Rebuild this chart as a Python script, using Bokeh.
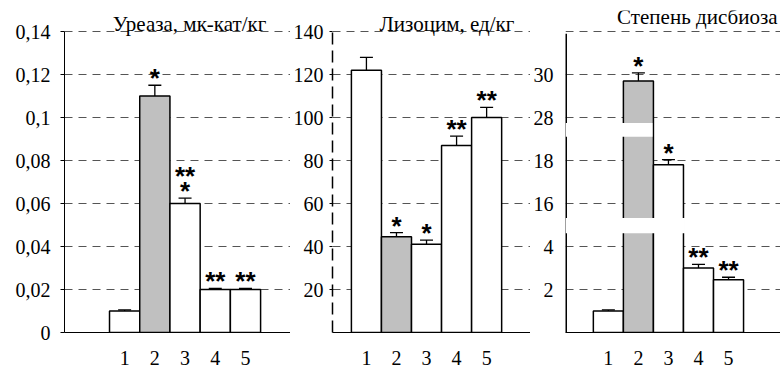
import numpy as np
from bokeh.plotting import figure
from bokeh.layouts import row
from bokeh.models import ColumnDataSource, Range1d, FixedTicker, Whisker, Label, TeeHead
from bokeh.core.properties import value
from bokeh.embed import file_html
from bokeh.resources import INLINE

# ---------------- data ----------------
groups = [1, 2, 3, 4, 5]
group_labels = ["1", "2", "3", "4", "5"]
bar_colors = ["white", "#c0c0c0", "white", "white", "white"]

urease_title = "Уреаза, мк-кат/кг"
urease = [0.010, 0.110, 0.060, 0.020, 0.020]
urease_err = [0.0005, 0.005, 0.0025, 0.0005, 0.0005]
urease_marks = ["", "*", "**\n*", "**", "**"]
urease_ticks = [0, 0.02, 0.04, 0.06, 0.08, 0.10, 0.12, 0.14]
urease_tick_labels = ["0", "0,02", "0,04", "0,06", "0,08", "0,1", "0,12", "0,14"]

lysozyme_title = "Лизоцим, ед/кг"
lysozyme = [122, 44.5, 41, 87, 100]
lysozyme_err = [6, 2, 2, 4.3, 4.7]
lysozyme_marks = ["", "*", "*", "**", "**"]
lysozyme_ticks = [20, 40, 60, 80, 100, 120, 140]
lysozyme_tick_labels = ["20", "40", "60", "80", "100", "120", "140"]

dysbiosis_title = "Степень дисбиоза"
dysbiosis = [1.0, 29.7, 17.8, 3.0, 2.45]
dysbiosis_err = [0.05, 0.5, 0.4, 0.17, 0.12]
dysbiosis_marks = ["", "*", "*", "**", "**"]
dysbiosis_ticks = [2, 4, 16, 18, 28, 30]
dysbiosis_tick_labels = ["2", "4", "16", "18", "28", "30"]
# broken axis: real value -> axis position
break_real = [0, 4, 16, 18, 28, 30, 35]
break_pos = [0, 2, 3, 4, 5, 6, 7]

# ---------------- style ----------------
SERIF = "'Times New Roman', 'Liberation Serif', 'DejaVu Serif', serif"
SANS = "Liberation Sans"
FIG_H = 370
BORDER_TOP = 10
BORDER_BOTTOM = 38
FRAME_H = FIG_H - BORDER_TOP - BORDER_BOTTOM
TOP_GRID_PX = 301  # pixels from zero line to top gridline
GRID_DASH = "8 6"
GRID_COLOR = "#555555"


def brk(v):
    return np.interp(np.asarray(v, dtype=float), break_real, break_pos)


def make_panel(vals, errs, top_val, width, border_left, x_start, x_end):
    y_end = top_val * FRAME_H / TOP_GRID_PX
    p = figure(width=width, height=FIG_H, output_backend="svg", toolbar_location=None,
               x_range=Range1d(x_start, x_end), y_range=Range1d(0, y_end),
               min_border_left=border_left, min_border_right=0,
               min_border_top=BORDER_TOP, min_border_bottom=BORDER_BOTTOM)
    p.outline_line_color = None
    p.background_fill_color = "white"
    p.border_fill_color = "white"
    p.xgrid.visible = False
    p.ygrid.grid_line_dash = GRID_DASH
    p.ygrid.grid_line_color = GRID_COLOR
    p.ygrid.grid_line_width = 1

    xa = p.xaxis[0]
    xa.ticker = FixedTicker(ticks=groups)
    xa.major_label_overrides = {g: l for g, l in zip(groups, group_labels)}
    xa.major_tick_line_color = None
    xa.minor_tick_line_color = None
    xa.major_label_standoff = 12
    xa.major_label_text_font = SERIF
    xa.major_label_text_font_size = "20px"
    xa.major_label_text_color = "black"
    xa.axis_line_color = "black"
    xa.axis_line_width = 1.2

    ya = p.yaxis[0]
    ya.minor_tick_line_color = None
    ya.major_label_text_font = SERIF
    ya.major_label_text_font_size = "20px"
    ya.major_label_text_color = "black"
    ya.axis_line_color = "black"

    src = ColumnDataSource(dict(x=groups, top=vals, color=bar_colors,
                                upper=[v + e for v, e in zip(vals, errs)],
                                lower=[v - e for v, e in zip(vals, errs)]))
    p.vbar(x="x", top="top", width=1.0, bottom=0, source=src, fill_color="color",
           line_color="black", line_width=1.5)
    p.add_layout(Whisker(source=src, base="x", upper="upper", lower="lower",
                         line_color="black", line_width=1.3,
                         upper_head=TeeHead(size=13, line_color="black", line_width=1.3),
                         lower_head=TeeHead(size=13, line_color="black", line_width=1.3)))
    return p, src


def add_marks(p, src, marks):
    rows = [m.split("\n")[::-1] for m in marks]
    r0 = [r[0] if len(r) > 0 else "" for r in rows]
    r1 = [r[1] if len(r) > 1 else "" for r in rows]
    msrc = ColumnDataSource(dict(x=list(src.data["x"]), y=list(src.data["upper"]), t0=r0, t1=r1))
    for col, off in (("t0", -7), ("t1", -22)):
        p.text(x="x", y="y", text=col, source=msrc, text_font=value(SANS), text_font_style="bold",
               text_font_size="26px", text_align="center", text_baseline="alphabetic",
               text_color="black", y_offset=off)


# ---------- panel 1: urease ----------
p1, s1 = make_panel(urease, urease_err, urease_ticks[-1], 290, 64, -0.99, 6.49)
p1.yaxis[0].ticker = FixedTicker(ticks=urease_ticks)
p1.yaxis[0].major_label_overrides = {t: l for t, l in zip(urease_ticks, urease_tick_labels)}
p1.yaxis[0].major_tick_out = 4
p1.yaxis[0].major_tick_in = 0
p1.yaxis[0].major_label_standoff = 10
p1.yaxis[0].bounds = (0, urease_ticks[-1])
p1.ygrid.ticker = FixedTicker(ticks=urease_ticks[1:])
add_marks(p1, s1, urease_marks)
p1.add_layout(Label(x=3.15, y=urease_ticks[-1], text=urease_title, text_align="center",
                    text_baseline="alphabetic", text_font=SERIF, text_font_size="21px",
                    text_color="black", y_offset=8))

# ---------- panel 2: lysozyme ----------
p2, s2 = make_panel(lysozyme, lysozyme_err, lysozyme_ticks[-1], 240, 41, -0.129, 6.46)
p2.yaxis[0].ticker = FixedTicker(ticks=lysozyme_ticks)
p2.yaxis[0].major_label_overrides = {t: l for t, l in zip(lysozyme_ticks, lysozyme_tick_labels)}
p2.yaxis[0].major_tick_out = 3
p2.yaxis[0].major_tick_in = 0
p2.yaxis[0].major_label_standoff = 6
p2.yaxis[0].axis_line_dash = "12 6"
p2.yaxis[0].axis_line_width = 1.5
p2.yaxis[0].bounds = (0, lysozyme_ticks[-1])
p2.ygrid.ticker = FixedTicker(ticks=lysozyme_ticks)
add_marks(p2, s2, lysozyme_marks)
p2.add_layout(Label(x=3.68, y=lysozyme_ticks[-1], text=lysozyme_title, text_align="center",
                    text_baseline="alphabetic", text_font=SERIF, text_font_size="21px",
                    text_color="black", y_offset=8))

# ---------- panel 3: dysbiosis (broken axis) ----------
d_pos = brk(dysbiosis).tolist()
d_up = brk(np.array(dysbiosis) + np.array(dysbiosis_err)).tolist()
d_lo = brk(np.array(dysbiosis) - np.array(dysbiosis_err)).tolist()
tick_pos = brk(dysbiosis_ticks).tolist()
x3_start, x3_end = -0.427, 6.73
p3, s3 = make_panel(d_pos, [0] * 5, break_pos[-1], 250, 34, x3_start, x3_end)
s3.data["upper"] = d_up
s3.data["lower"] = d_lo
ya3 = p3.yaxis[0]
ya3.ticker = FixedTicker(ticks=tick_pos)
ya3.major_label_overrides = {t: l for t, l in zip(tick_pos, dysbiosis_tick_labels)}
ya3.major_tick_line_color = None
ya3.axis_line_color = None
ya3.major_label_standoff = 6
p3.ygrid.ticker = FixedTicker(ticks=tick_pos + [break_pos[-1]])
# axis line drawn inside so breaks can cut it
p3.segment(x0=[x3_start], y0=[0], x1=[x3_start], y1=[break_pos[-1] - 0.05],
           line_color="black", line_width=3)
# white bands marking the axis breaks
bands = dict(left=[x3_start, x3_start], right=[2.47, 3.55], bottom=[4.55, 2.31], top=[4.87, 2.66])
p3.quad(left="left", right="right", bottom="bottom", top="top", source=ColumnDataSource(bands),
        fill_color="white", line_color=None)
add_marks(p3, s3, dysbiosis_marks)
p3.add_layout(Label(x=x3_end, y=break_pos[-1], text=dysbiosis_title, text_align="right",
                    text_baseline="alphabetic", text_font=SERIF, text_font_size="21px",
                    text_color="black", y_offset=15, x_offset=-3))

layout = row(p1, p2, p3, spacing=0)
open("out.html", "w").write(file_html(layout, INLINE))
